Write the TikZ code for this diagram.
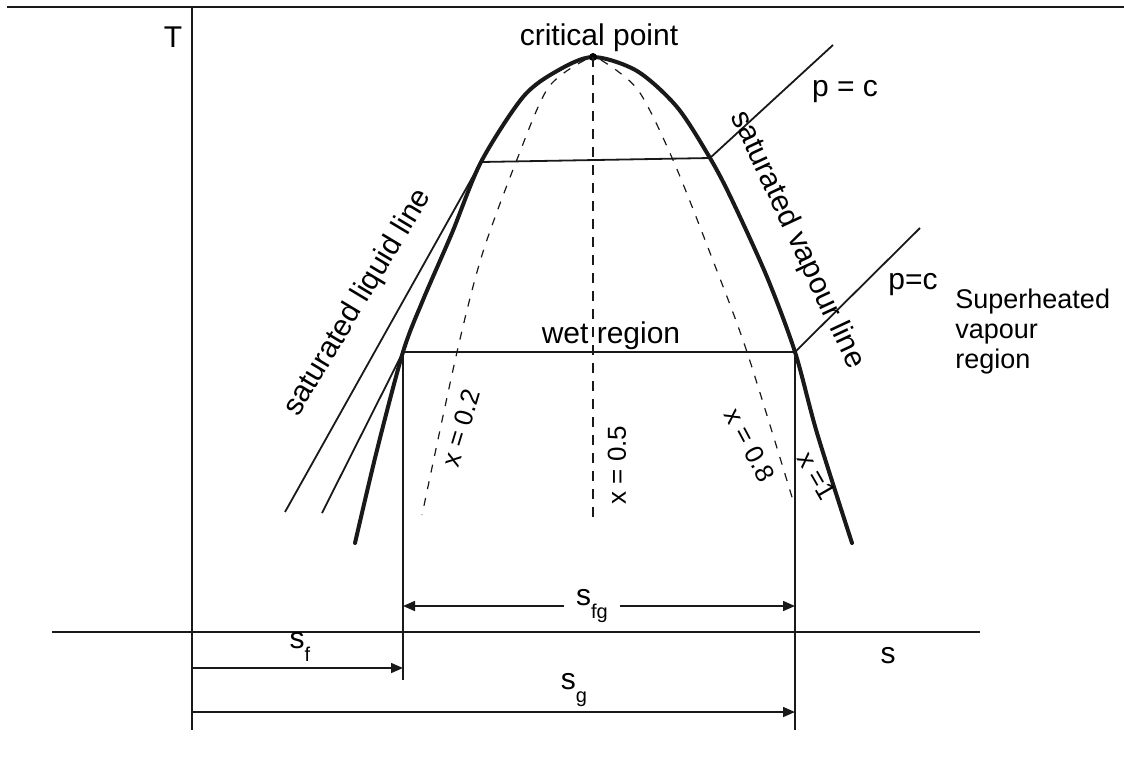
\documentclass[tikz,border=0pt]{standalone}
\usepackage{fontspec}
\setmainfont{Liberation Sans}
\usetikzlibrary{arrows.meta}
\newcommand{\subtxt}[1]{\raisebox{-0.45em}{\fontsize{10}{12}\selectfont #1}}

\begin{document}
\begin{tikzpicture}[
    x=0.5pt, y=-0.5pt,
    >={Triangle[length=6pt, width=5pt]},
    axis/.style={line width=1pt, black!90},
    dome/.style={line width=2pt, black!90, line cap=round},
    pline/.style={line width=0.9pt, black!90},
    qline/.style={line width=0.6pt, black!90, dash pattern=on 4pt off 4.5pt},
    midline/.style={line width=1pt, black!90, dash pattern=on 5pt off 4pt},
    dimline/.style={line width=0.8pt, black!90},
    lbl/.style={font=\fontsize{15}{18}\selectfont, inner sep=1pt},
    qlbl/.style={font=\fontsize{13}{15}\selectfont, inner sep=1pt},
    reglbl/.style={font=\fontsize{13.5}{16}\selectfont, align=left, inner sep=0pt},
]
\useasboundingbox (0,0) rectangle (1124,757);

% main points
\coordinate (cp) at (593,57);
\coordinate (L1) at (481,162);
\coordinate (V1) at (710,158);
\coordinate (L2) at (403,352);
\coordinate (V2) at (795,352);
\coordinate (O) at (192,632);

% frame line and axes
\draw[axis] (7,7) -- (1124,7);
\draw[axis] (192,7) -- (192,730);
\draw[axis] (52,632) -- (980,632);
\node[lbl] (Tlab) at (173,37) {T};
\node[lbl] (slab) at (888,656) {s};

% saturation dome
\draw[dome] plot[smooth] coordinates {(355,543) (377,450) (403,352) (423,300)
    (452,233) (481,162) (523,97) (557,71) (593,57) (637,71) (677,107) (710,158)
    (732,200) (767,277) (795,352) (817,433) (852,543)};
\fill (cp) circle (2pt);
\node[lbl, anchor=south] (cplab) at (599,54) {critical point};

% dryness fraction lines
\draw[qline] plot[smooth] coordinates {(585,60) (548,88) (516,162) (482,255) (457,352) (422,515)};
\draw[qline] plot[smooth] coordinates {(601,60) (638,90) (673,160) (712,258) (747,352) (795,507)};
\draw[midline] (cp) -- (593,522);

% constant pressure lines
\coordinate (P1) at (833,45);
\coordinate (P2) at (920,228);
\coordinate (S1) at (285,512);
\coordinate (S2) at (322,513);
\draw[pline] (S1) -- (L1) -- (V1) -- (P1);
\draw[pline] (S2) -- (L2) -- (V2) -- (P2);
\node[lbl] (pc1) at (845,92) {p = c};
\node[lbl] (pc2) at (913,285) {p=c};

% verticals
\coordinate (Lb) at (403,680);
\coordinate (Vb) at (795,730);
\draw[pline] (L2) -- (Lb);
\draw[pline] (V2) -- (Vb);

% region labels
\node[lbl] (wet) at (611,336) {wet region};
\node[reglbl, anchor=west] (sup) at (955,332) {Superheated\\[-1pt]vapour\\[-1pt]region};
\node[lbl, rotate=59] (liq) at (358,303) {saturated liquid line};
\node[lbl, rotate=-65] (vap) at (797,240) {saturated vapour line};
\node[qlbl, rotate=73] (q2) at (461,428) {x = 0.2};
\node[qlbl, rotate=90] (q5) at (617,465) {x = 0.5};
\node[qlbl, rotate=-62] (q8) at (750,445) {x = 0.8};
\node[qlbl, rotate=-60] (q1) at (817,476) {x =1};

% entropy dimensions
\coordinate (fgA) at (403,606);
\coordinate (fgB) at (795,606);
\coordinate (fA) at (192,668);
\coordinate (fB) at (403,668);
\coordinate (gA) at (192,712);
\coordinate (gB) at (795,712);
\draw[dimline, <->] (fgA) -- (fgB);
\node[lbl, fill=white, inner xsep=6pt] (sfg) at (592,606) {s\subtxt{fg}};
\draw[dimline, ->] (fA) -- (fB);
\node[lbl] (sf) at (300,647) {s\subtxt{f}};
\draw[dimline, ->] (gA) -- (gB);
\node[lbl] (sg) at (574,690) {s\subtxt{g}};
\end{tikzpicture}
\end{document}
